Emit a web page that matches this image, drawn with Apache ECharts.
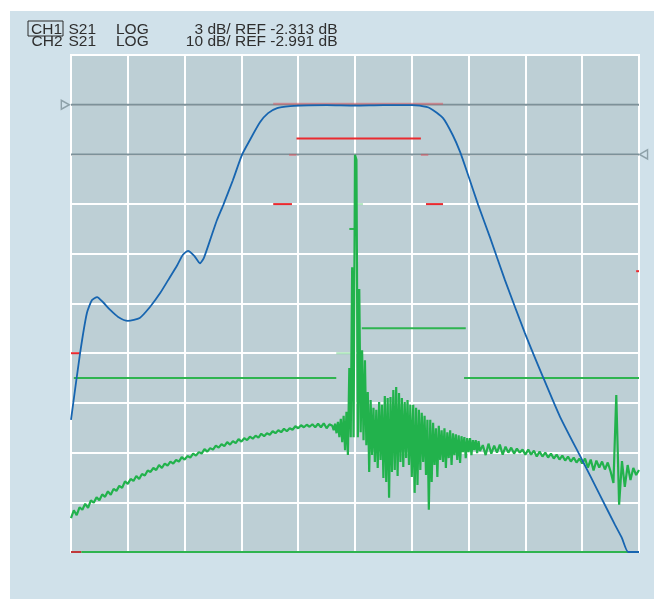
<!DOCTYPE html>
<html>
<head>
<meta charset="utf-8">
<script src="https://cdn.jsdelivr.net/npm/echarts@6/dist/echarts.min.js"></script>
<style>
  html, body { margin: 0; padding: 0; background: #ffffff; }
  #chart { position: absolute; left: 10px; top: 11px; width: 644px; height: 588px; }
</style>
</head>
<body>
<div id="chart"></div>
<script>
// all positions in screen divisions: x 0..10, y 0..10 (bottom to top)
// header texts
const ch1Header = ['CH1', 'S21', 'LOG', '3 dB/ REF -2.313 dB'];
const ch2Header = ['CH2', 'S21', 'LOG', '10 dB/ REF -2.991 dB'];

// reference line positions (division)
const ch1RefDiv = 9;
const ch2RefDiv = 8;

// CH1 (blue) trace: [x, y]
const ch1Trace = [
  [0, 2.66], [0.16, 4.0], [0.28, 4.81], [0.37, 5.07], [0.46, 5.13], [0.56, 5.03],
  [0.69, 4.87], [0.83, 4.73], [1.0, 4.65], [1.21, 4.71], [1.39, 4.93], [1.57, 5.21],
  [1.71, 5.47], [1.87, 5.77], [1.97, 5.98], [2.06, 6.06], [2.17, 5.96], [2.27, 5.81],
  [2.34, 5.92], [2.45, 6.28], [2.57, 6.68], [2.68, 6.98], [2.85, 7.48], [3.01, 7.99],
  [3.15, 8.29], [3.33, 8.65], [3.47, 8.83], [3.63, 8.93], [3.86, 8.97], [4.03, 8.98],
  [4.5, 8.99], [5.0, 8.98], [5.5, 8.99], [6.0, 8.99], [6.14, 8.98], [6.32, 8.93],
  [6.55, 8.73], [6.72, 8.39], [6.85, 8.05], [6.99, 7.59], [7.17, 6.98], [7.38, 6.32],
  [7.64, 5.47], [7.99, 4.41], [8.31, 3.52], [8.61, 2.72], [9.0, 1.85], [9.31, 1.15],
  [9.58, 0.54], [9.70, 0.28], [9.81, 0], [10, 0]
];

// CH2 (green) trace, low part: x = 0 .. 4.55 every 0.05 div
const ch2Low = [
  0.68, 0.84, 0.74, 0.90, 0.85, 0.97, 0.89, 1.04, 0.99, 1.10, 1.04, 1.16,
  1.11, 1.22, 1.15, 1.27, 1.23, 1.33, 1.29, 1.42, 1.37, 1.47, 1.43, 1.53,
  1.47, 1.57, 1.54, 1.64, 1.61, 1.69, 1.65, 1.75, 1.69, 1.78, 1.74, 1.82,
  1.78, 1.85, 1.82, 1.91, 1.86, 1.93, 1.90, 1.98, 1.94, 2.01, 1.98, 2.07,
  2.02, 2.09, 2.06, 2.14, 2.10, 2.17, 2.13, 2.21, 2.16, 2.23, 2.19, 2.27,
  2.22, 2.29, 2.25, 2.32, 2.28, 2.34, 2.30, 2.38, 2.33, 2.39, 2.36, 2.43,
  2.39, 2.45, 2.41, 2.48, 2.43, 2.49, 2.46, 2.53, 2.49, 2.55, 2.51, 2.56,
  2.52, 2.57, 2.51, 2.58, 2.51, 2.59, 2.49, 2.57
];
// ringing part: x = 4.6 .. 7.2 every 0.025 div
const ch2Ring = [
  2.54, 2.45, 2.58, 2.39, 2.62, 2.31, 2.68, 2.21, 2.74, 2.05, 2.82, 1.95,
  3.70, 2.31, 5.73, 2.31, 7.99, 7.89, 2.31, 5.29, 2.41, 4.06, 2.25, 3.86,
  2.15, 3.22, 1.61, 3.06, 1.95, 2.90, 1.81, 2.86, 1.69, 3.02, 1.85, 2.96,
  1.49, 3.14, 1.41, 3.10, 1.09, 3.12, 1.61, 3.26, 1.65, 3.32, 1.53, 3.20,
  1.81, 3.10, 1.71, 3.02, 1.89, 3.06, 1.75, 2.96, 1.51, 2.96, 1.19, 2.90,
  1.35, 2.86, 1.65, 2.80, 1.81, 2.74, 1.55, 2.66, 0.85, 2.66, 1.41, 2.60,
  1.75, 2.49, 1.51, 2.54, 1.85, 2.45, 1.81, 2.49, 1.69, 2.41, 1.89, 2.45,
  1.75, 2.39, 1.95, 2.37, 1.85, 2.35, 1.79, 2.33, 2.01, 2.31, 1.89, 2.29,
  2.01, 2.29, 1.95, 2.25, 2.05, 2.25, 1.99, 2.23, 2.03
];
// tail part: x = 7.25 .. 10.0 every 0.05 div
const ch2Tail = [
  2.15, 1.95, 2.18, 1.98, 2.14, 2.00, 2.16, 1.96, 2.12, 2.00, 2.10, 1.98,
  2.08, 2.00, 2.06, 1.96, 2.06, 1.96, 2.04, 1.92, 2.02, 1.92, 2.00, 1.90,
  1.98, 1.88, 1.96, 1.86, 1.94, 1.84, 1.92, 1.82, 1.90, 1.80, 1.88, 1.78,
  1.88, 1.70, 1.86, 1.64, 1.84, 1.70, 1.82, 1.66, 1.80, 1.62, 1.39, 3.16,
  0.95, 1.83, 1.31, 1.75, 1.45, 1.69, 1.55, 1.65
];

// limit lines (segments)
const redLimits = [
  [[3.97, 8.32], [6.16, 8.32]],
  [[3.56, 7.0], [3.89, 7.0]],
  [[6.25, 7.0], [6.55, 7.0]],
  [[0, 4.0], [0.16, 4.0]],
  [[9.95, 5.65], [10, 5.65]]
];
const paleRedLimits = [
  [[3.56, 9.02], [6.55, 9.02]],
  [[3.84, 7.99], [3.97, 7.99]],
  [[6.16, 7.99], [6.29, 7.99]]
];
const greenLimits = [
  [[0.05, 3.5], [4.67, 3.5]],
  [[6.92, 3.5], [10, 3.5]],
  [[5.12, 4.5], [6.95, 4.5]],
  [[4.9, 6.5], [5.0, 6.5]],
  [[0.18, 0], [9.81, 0]]
];
const paleGreenLimits = [
  [[4.67, 4.0], [4.93, 4.0]],
  [[5.0, 7.0], [5.14, 7.0]]
];
const bottomRed = [[0, 0], [0.18, 0]];

const ch2Trace = [];
ch2Low.forEach((v, i) => ch2Trace.push([+(i * 0.05).toFixed(3), v]));
ch2Ring.forEach((v, i) => ch2Trace.push([+(4.6 + i * 0.025).toFixed(3), v]));
ch2Tail.forEach((v, i) => ch2Trace.push([+(7.25 + i * 0.05).toFixed(3), v]));

const chart = echarts.init(document.getElementById('chart'));

function seg(data, color, width, z) {
  return {
    type: 'line', data: data, symbol: 'none', silent: true, z: z,
    lineStyle: { color: color, width: width }
  };
}

const axisCommon = {
  type: 'value', min: 0, max: 10, interval: 1,
  axisLabel: { show: false }, axisTick: { show: false }, axisLine: { show: false },
  splitLine: { show: true, lineStyle: { color: '#ffffff', width: 2 } }
};

const series = [];
series.push(seg([[0, ch1RefDiv], [10, ch1RefDiv]], '#7d9199', 2, 2));
series.push(seg([[0, ch2RefDiv], [10, ch2RefDiv]], '#7d9199', 2, 2));
series.push({
  type: 'scatter', clip: false, silent: true, z: 3,
  symbol: 'triangle', symbolSize: [9, 8],
  itemStyle: { color: '#d0e1ea', borderColor: '#7d9199', borderWidth: 1.5 },
  data: [
    { value: [-0.1, ch1RefDiv], symbolRotate: -90 },
    { value: [10.08, ch2RefDiv], symbolRotate: 90 }
  ]
});
paleRedLimits.forEach(d => series.push(seg(d, 'rgba(226,80,90,0.5)', 2, 3)));
greenLimits.forEach(d => series.push(seg(d, '#2fb450', 2, 3)));
paleGreenLimits.forEach(d => series.push(seg(d, 'rgba(80,200,110,0.45)', 2, 3)));
series.push(seg(bottomRed, '#c0393b', 2, 3));
series.push({
  type: 'line', data: ch2Trace, symbol: 'none', silent: true, z: 4,
  lineStyle: { color: '#22b24c', width: 2.2 }
});
redLimits.forEach(d => series.push(seg(d, '#ea2a2f', 2, 5)));
series.push({
  type: 'line', data: ch1Trace, symbol: 'none', smooth: 0.2, silent: true, z: 6,
  lineStyle: { color: '#1765b0', width: 1.8 }
});

const font = '"Liberation Sans", Arial, Helvetica, sans-serif';
function txt(s, x, y, align) {
  return {
    type: 'text', x: x, y: y, silent: true,
    style: { text: s, fill: '#2e2e2e', font: '15.5px ' + font, textAlign: align || 'left', textVerticalAlign: 'middle' }
  };
}

chart.setOption({
  animation: false,
  backgroundColor: '#d0e1ea',
  grid: {
    left: 61, top: 44, width: 568, height: 497,
    show: true, backgroundColor: '#bdcfd5', borderColor: '#ffffff', borderWidth: 2
  },
  xAxis: axisCommon,
  yAxis: axisCommon,
  graphic: [
    { type: 'rect', shape: { x: 18, y: 10, width: 35, height: 15 }, style: { fill: 'none', stroke: '#2a2a2a', lineWidth: 1 } },
    txt(ch1Header[0], 21, 18.5), txt(ch1Header[1], 58.5, 18.5), txt(ch1Header[2], 106, 18.5),
    txt(ch1Header[3], 327.5, 18.5, 'right'),
    txt(ch2Header[0], 21.5, 31), txt(ch2Header[1], 58.5, 31), txt(ch2Header[2], 106, 31),
    txt(ch2Header[3], 327.5, 31, 'right')
  ],
  series: series
});
</script>
</body>
</html>
